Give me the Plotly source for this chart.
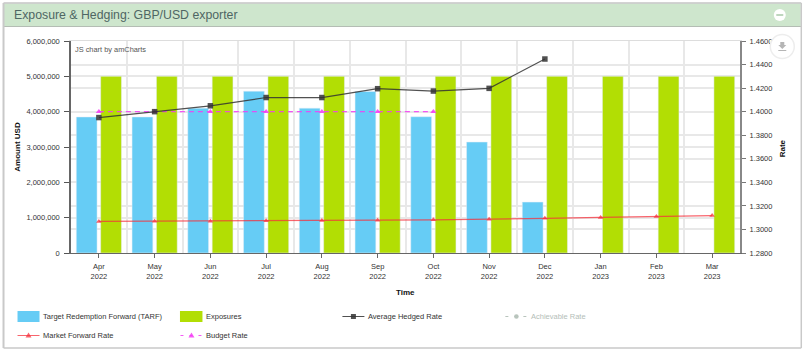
import plotly.graph_objects as go

W, H = 805, 353
categories = ["2022-04", "2022-05", "2022-06", "2022-07", "2022-08", "2022-09",
              "2022-10", "2022-11", "2022-12", "2023-01", "2023-02", "2023-03"]
month_labels = ["Apr", "May", "Jun", "Jul", "Aug", "Sep", "Oct", "Nov", "Dec", "Jan", "Feb", "Mar"]
year_labels = ["2022"] * 9 + ["2023"] * 3
tarf = [3850000, 3850000, 4100000, 4580000, 4100000, 4570000, 3857000, 3140000, 1440000, None, None, None]
exposures = [5000000] * 12
avg_hedged = [1.395, 1.400, 1.405, 1.412, 1.412, 1.4195, 1.4175, 1.4198, 1.4447, None, None, None]
market_fwd = [1.3068, 1.3069, 1.3070, 1.3073, 1.3076, 1.3079, 1.3082, 1.3086, 1.3094, 1.3102, 1.3110, 1.3118]
budget = [1.40] * 7 + [None] * 5
left_ticks = [0, 1000000, 2000000, 3000000, 4000000, 5000000, 6000000]
right_ticks = [1.28, 1.30, 1.32, 1.34, 1.36, 1.38, 1.40, 1.42, 1.44, 1.46]

FONT = "Liberation Sans, Arial, sans-serif"
L, R, T, B = 70.5, 739.7, 41, 253
TXT = "#333333"
BLUE, GREEN, DARK, GREY, RED, PINK = "#66CCF5", "#B2DE04", "rgba(50,50,50,0.85)", "#B8C4BC", "rgba(245,50,60,0.75)", "rgba(245,60,245,0.85)"


def px(x):
    return (x - L) / (R - L)


def py(y):
    return (B - y) / (B - T)


def rect(x0, y0, x1, y1, fill, **kw):
    return dict(type="rect", xref="paper", yref="paper", x0=px(x0), x1=px(x1), y0=py(y1), y1=py(y0),
                fillcolor=fill, line=dict(width=0), **kw)


def line(x0, y0, x1, y1, color, width=1, dash="solid", **kw):
    return dict(type="line", xref="paper", yref="paper", x0=px(x0), x1=px(x1), y0=py(y0), y1=py(y1),
                line=dict(color=color, width=width, dash=dash), **kw)


def poly(points, fill):
    path = "M" + " L".join(f"{px(a)},{py(b)}" for a, b in points) + " Z"
    return dict(type="path", xref="paper", yref="paper", path=path, fillcolor=fill, line=dict(width=0))


def circle(cx, cy, r, fill, lc=None, lw=0):
    return dict(type="circle", xref="paper", yref="paper", x0=px(cx - r), x1=px(cx + r), y0=py(cy + r), y1=py(cy - r),
                fillcolor=fill, line=dict(color=lc, width=lw) if lc else dict(width=0))


def label(text, x, y, size=7.5, color=TXT, anchor="left", angle=0):
    return dict(text=text, xref="paper", yref="paper", x=px(x), y=py(y), xanchor=anchor, yanchor="middle",
                showarrow=False, textangle=angle, font=dict(size=size, color=color, family=FONT))


fig = go.Figure()
fig.add_bar(x=categories, y=tarf, name="Target Redemption Forward (TARF)", marker=dict(color=BLUE),
            xaxis="x", yaxis="y")
fig.add_bar(x=categories, y=exposures, name="Exposures", marker=dict(color=GREEN), xaxis="x", yaxis="y")
fig.add_scatter(x=categories, y=market_fwd, name="Market Forward Rate", mode="lines+markers",
                line=dict(color=RED, width=1.3), marker=dict(symbol="triangle-up", size=5, color=RED),
                xaxis="x2", yaxis="y2")
fig.add_scatter(x=categories, y=budget, name="Budget Rate", mode="lines+markers",
                line=dict(color=PINK, width=1.2, dash="5px,4px"),
                marker=dict(symbol="triangle-up", size=5.5, color=PINK),
                xaxis="x2", yaxis="y2")
fig.add_scatter(x=categories, y=avg_hedged, name="Average Hedged Rate", mode="lines+markers",
                line=dict(color=DARK, width=1.2), marker=dict(symbol="square", size=5.5, color=DARK),
                xaxis="x2", yaxis="y2")

shapes = [
    rect(3, 3, 801, 348, "white", layer="below"),
    rect(3.5, 3.5, 800.5, 26.5, "#CEE6CD", layer="below"),
    line(3, 26.5, 801, 26.5, "#B4BDB4", 1, layer="below"),
    line(3, 3, 801, 3, "#C4C4C4", 1.5, layer="below"),
    line(3, 3, 3, 348, "#C9C9C9", 2, layer="below"),
    line(801, 3, 801, 348, "#C9C9C9", 1.5, layer="below"),
    line(3, 348, 801, 348, "#C9C9C9", 1.5, layer="below"),
    circle(779.5, 15, 6, "white"),
    line(776, 15, 783, 15, "#A9C9A8", 1.5),
    circle(782, 46.5, 12, "white", "#EDEDED", 1.5),
    poly([(780, 42), (784, 42), (784, 45), (786, 45), (782, 49), (778, 45), (780, 45)], "#B5B5B5"),
    line(778, 50.5, 786, 50.5, "#B5B5B5", 1),
    # legend keys
    rect(17, 311, 39, 322, BLUE),
    rect(179.5, 311, 202, 322, GREEN),
    line(342, 316.5, 364, 316.5, DARK, 1),
    rect(350.5, 314, 355.5, 319, DARK),
    line(505, 316.5, 527, 316.5, GREY, 1, "3px,6px"),
    circle(516, 316.5, 2.3, GREY),
    line(17, 335.5, 39, 335.5, RED, 1),
    poly([(28, 332.5), (31, 337.5), (25, 337.5)], RED),
    line(180, 335.5, 202, 335.5, PINK, 1, "3px,6px"),
    poly([(191, 332.5), (194, 337.5), (188, 337.5)], PINK),
]

annotations = [
    label("Exposure &amp; Hedging: GBP/USD exporter", 11.5, 15, 12.3, "#4F6664"),
    label("JS chart by amCharts", 72.5, 49, 7.4, "#555555"),
    label("<b>Rate</b>", 782, 148, 8, "#111111", "center", -90),
    label("Target Redemption Forward (TARF)", 40.5, 316.5),
    label("Exposures", 203.5, 316.5),
    label("Average Hedged Rate", 365.5, 316.5),
    label("Achievable Rate", 528.5, 316.5, color="#B4BEB8"),
    label("Market Forward Rate", 40.5, 335.5),
    label("Budget Rate", 203.5, 335.5),
    label("<b>Time</b>", 405, 292, 8, "#111111", "center"),
]

fig.update_layout(
    width=W, height=H, margin=dict(l=L, r=W - R, t=T, b=H - B, pad=0, autoexpand=False),
    paper_bgcolor="white", plot_bgcolor="white", font=dict(family=FONT, size=7.5, color=TXT),
    barmode="group", bargap=0.125, bargroupgap=0.148, shapes=shapes, annotations=annotations, showlegend=False,
    xaxis=dict(type="category", categoryorder="array", categoryarray=categories, range=[-0.5, 11.5],
               tickmode="array", tickvals=categories, ticktext=year_labels,
               tickson="boundaries", ticks="", ticklabelstandoff=16, showgrid=True, gridcolor="#E8E8E8",
               gridwidth=1.5, showline=True, linecolor="#DDDDDD", mirror=True, zeroline=False,
               tickfont=dict(size=7.5, color=TXT)),
    xaxis2=dict(type="category", categoryorder="array", categoryarray=categories, range=[-0.5, 11.5],
                tickmode="array", tickvals=categories, ticktext=month_labels,
                overlaying="x", side="bottom", anchor="y2", ticks="outside", ticklen=4, tickcolor="#666666",
                showgrid=False, showline=True, linecolor="#666666", linewidth=1, ticklabelstandoff=2,
                tickfont=dict(size=7.5, color=TXT)),
    yaxis=dict(range=[0, 6000000], tickvals=left_ticks, tickformat=",d", showgrid=True, gridcolor="#E8E8E8",
               gridwidth=1.5, ticks="outside", ticklen=5, tickcolor="#555555", showline=True, linecolor="#666666",
               linewidth=1.5, zeroline=False, tickfont=dict(size=7.5, color=TXT), ticklabelstandoff=3,
               title=dict(text="<b>Amount USD</b>", font=dict(size=8, color="#111111"), standoff=5)),
    yaxis2=dict(range=[1.28, 1.46], tickvals=right_ticks, tickformat=".4f", overlaying="y", side="right",
                anchor="x2", showgrid=True, gridcolor="#E8E8E8", gridwidth=1.5, ticks="outside", ticklen=4,
                tickcolor="#777777", showline=True, linecolor="#888888", linewidth=2, zeroline=False,
                ticklabelstandoff=2, tickfont=dict(size=7.5, color=TXT)),
)
fig.write_html("out.html", config={"displayModeBar": False}, post_script="document.body.style.margin='0';")
